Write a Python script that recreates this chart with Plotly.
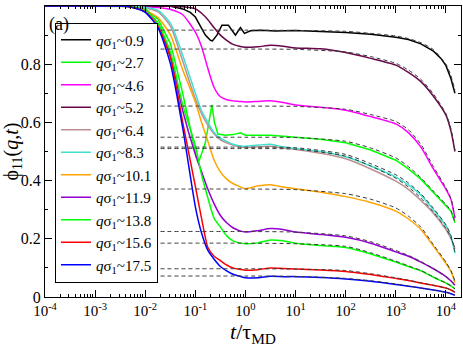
import plotly.graph_objects as go

# time grid shared by most curves (t / tau_MD)
T = [1e-4, 1e-3, 3.2e-3, 5.6e-3, 0.01, 0.018, 0.032, 0.056, 0.1, 0.133, 0.178, 0.237,
     0.316, 0.422, 0.562, 0.75, 1, 1.78, 3.16, 5.62, 10, 31.6, 100, 316, 1000, 1780,
     3160, 5620, 10000, 12600, 15100]

# q sigma_1 ~ 0.9 and 2.7 are noisy, they get their own time points
T_09 = [1e-4, 1e-3, 0.01, 0.032, 0.056, 0.079, 0.1, 0.126, 0.158, 0.2, 0.219, 0.269,
        0.339, 0.457, 0.631, 0.794, 0.955, 1.26, 2.0, 3.98, 10, 31.6, 100, 316, 1000,
        1780, 3160, 5620, 7940, 10000, 12600, 15100]
PHI_09 = [1, 1, 1, 0.999, 0.99, 0.978, 0.962, 0.93, 0.9, 0.882, 0.88, 0.9, 0.934,
          0.934, 0.9, 0.926, 0.906, 0.915, 0.917, 0.914, 0.916, 0.912, 0.909, 0.903,
          0.893, 0.885, 0.87, 0.845, 0.82, 0.795, 0.75, 0.70]

T_27 = [1e-4, 1e-3, 3.2e-3, 5.6e-3, 0.01, 0.018, 0.032, 0.056, 0.079, 0.105, 0.12,
        0.158, 0.214, 0.24, 0.282, 0.398, 0.562, 0.794, 1, 1.78, 3.16, 5.62, 10, 31.6,
        100, 316, 1000, 1780, 3160, 5620, 10000, 12600, 15100]
PHI_27 = [1, 1, 1, 0.998, 0.99, 0.955, 0.87, 0.7, 0.58, 0.48, 0.47, 0.53, 0.66, 0.6,
          0.56, 0.556, 0.558, 0.564, 0.556, 0.555, 0.556, 0.552, 0.548, 0.542, 0.53,
          0.505, 0.47, 0.44, 0.405, 0.36, 0.315, 0.295, 0.255]

PHI_46 = [1, 1, 1, 1, 0.998, 0.995, 0.988, 0.97, 0.91, 0.86, 0.785, 0.72, 0.688, 0.678,
          0.674, 0.672, 0.67, 0.672, 0.674, 0.668, 0.66, 0.652, 0.642, 0.62, 0.595,
          0.565, 0.515, 0.44, 0.37, 0.335, 0.27]
PHI_52 = [1, 1, 1, 1, 1, 1, 0.999, 0.997, 0.99, 0.975, 0.953, 0.925, 0.9, 0.882, 0.868,
          0.862, 0.858, 0.86, 0.865, 0.862, 0.856, 0.853, 0.84, 0.82, 0.797, 0.772,
          0.74, 0.69, 0.625, 0.57, 0.5]
PHI_64 = [1, 1, 1, 0.999, 0.993, 0.98, 0.93, 0.81, 0.68, 0.63, 0.59, 0.56, 0.54, 0.53,
          0.522, 0.516, 0.514, 0.516, 0.518, 0.512, 0.507, 0.494, 0.475, 0.44, 0.398,
          0.37, 0.332, 0.288, 0.232, 0.2, 0.165]
PHI_83 = [1, 1, 1, 0.999, 0.995, 0.985, 0.94, 0.83, 0.7, 0.64, 0.6, 0.565, 0.545, 0.535,
          0.525, 0.52, 0.518, 0.522, 0.525, 0.516, 0.51, 0.5, 0.482, 0.45, 0.412, 0.385,
          0.35, 0.3, 0.245, 0.208, 0.15]
PHI_101 = [1, 1, 0.999, 0.995, 0.985, 0.96, 0.9, 0.78, 0.67, 0.6, 0.535, 0.47, 0.43,
           0.405, 0.39, 0.38, 0.372, 0.382, 0.386, 0.378, 0.372, 0.36, 0.345, 0.325,
           0.295, 0.268, 0.232, 0.175, 0.115, 0.088, 0.05]
PHI_119 = [1, 1, 1, 0.997, 0.985, 0.94, 0.83, 0.64, 0.49, 0.43, 0.37, 0.32, 0.28, 0.255,
           0.238, 0.228, 0.223, 0.228, 0.235, 0.232, 0.223, 0.215, 0.205, 0.185, 0.155,
           0.14, 0.12, 0.097, 0.07, 0.055, 0.04]
PHI_138 = [1, 1, 1, 0.997, 0.985, 0.94, 0.84, 0.66, 0.52, 0.42, 0.34, 0.27, 0.24, 0.21,
           0.193, 0.186, 0.183, 0.186, 0.196, 0.193, 0.185, 0.177, 0.17, 0.148, 0.12,
           0.105, 0.09, 0.068, 0.048, 0.038, 0.028]
PHI_156 = [1, 1, 1, 0.995, 0.98, 0.93, 0.82, 0.6, 0.38, 0.27, 0.17, 0.14, 0.125, 0.11,
           0.1, 0.095, 0.092, 0.094, 0.1, 0.098, 0.096, 0.093, 0.088, 0.077, 0.064,
           0.057, 0.048, 0.04, 0.031, 0.024, 0.016]
PHI_175 = [1, 1, 1, 0.995, 0.978, 0.925, 0.8, 0.58, 0.31, 0.22, 0.16, 0.13, 0.105, 0.09,
           0.078, 0.072, 0.066, 0.066, 0.071, 0.07, 0.07, 0.067, 0.062, 0.054, 0.043,
           0.037, 0.031, 0.024, 0.016, 0.011, 0.006]

# stretched exponential fits (dashed)
T_FIT = [0.0145, 1, 10, 100, 316, 1000, 1780, 3160, 5620, 10000, 12600, 15100]
FITS = {
    '0.9': [0.917, 0.917, 0.916, 0.913, 0.906, 0.897, 0.888, 0.874, 0.85, 0.8, 0.76, 0.71],
    '2.7': [0.549, 0.549, 0.548, 0.535, 0.512, 0.478, 0.448, 0.41, 0.364, 0.318, 0.296, 0.258],
    '4.6': [0.656, 0.656, 0.655, 0.645, 0.627, 0.603, 0.575, 0.525, 0.448, 0.375, 0.338, 0.275],
    '5.2': [0.852, 0.852, 0.851, 0.842, 0.826, 0.803, 0.78, 0.748, 0.698, 0.63, 0.578, 0.505],
    '6.4': [0.51, 0.51, 0.508, 0.484, 0.45, 0.408, 0.378, 0.34, 0.292, 0.236, 0.203, 0.168],
    '8.3': [0.515, 0.515, 0.513, 0.49, 0.458, 0.42, 0.392, 0.355, 0.305, 0.248, 0.21, 0.155],
    '10.1': [0.371, 0.371, 0.369, 0.355, 0.336, 0.306, 0.278, 0.24, 0.18, 0.12, 0.09, 0.055],
    '11.9': [0.225, 0.225, 0.223, 0.21, 0.19, 0.16, 0.143, 0.122, 0.098, 0.07, 0.056, 0.042],
    '13.8': [0.185, 0.185, 0.183, 0.174, 0.152, 0.123, 0.107, 0.091, 0.069, 0.048, 0.038, 0.028],
    '15.6': [0.097, 0.097, 0.096, 0.091, 0.08, 0.066, 0.058, 0.049, 0.04, 0.031, 0.024, 0.017],
    '17.5': [0.072, 0.072, 0.071, 0.064, 0.056, 0.045, 0.038, 0.031, 0.024, 0.016, 0.011, 0.007],
}

Q_LABELS = ['0.9', '2.7', '4.6', '5.2', '6.4', '8.3', '10.1', '11.9', '13.8', '15.6', '17.5']

X_TICKS = [1e-4, 1e-3, 1e-2, 1e-1, 1, 10, 100, 1000, 10000]
X_TICK_TEXT = ['10<sup>-4</sup>', '10<sup>-3</sup>', '10<sup>-2</sup>', '10<sup>-1</sup>',
               '10<sup>0</sup>', '10<sup>1</sup>', '10<sup>2</sup>', '10<sup>3</sup>',
               '10<sup>4</sup>']
Y_TICKS = [0, 0.2, 0.4, 0.6, 0.8, 1]
Y_TICK_TEXT = ['0', '0.2', '0.4', '0.6', '0.8', '1']

curves = {
    '0.9': (T_09, PHI_09), '2.7': (T_27, PHI_27), '4.6': (T, PHI_46),
    '5.2': (T, PHI_52), '6.4': (T, PHI_64), '8.3': (T, PHI_83),
    '10.1': (T, PHI_101), '11.9': (T, PHI_119), '13.8': (T, PHI_138),
    '15.6': (T, PHI_156), '17.5': (T, PHI_175),
}
colors = {'0.9': '#000000', '2.7': '#00ff00', '4.6': '#ff00ff', '5.2': '#670748',
          '6.4': '#bc8f8f', '8.3': '#40e0d0', '10.1': '#ffa500', '11.9': '#9400d3',
          '13.8': '#00ff00', '15.6': '#ff0000', '17.5': '#0000ff'}

serif = 'Liberation Serif, Times New Roman, serif'

fig = go.Figure()

for q in Q_LABELS:
    tt, yy = curves[q]
    noisy = q in ('0.9', '2.7')
    fig.add_trace(go.Scatter(x=tt, y=yy, mode='lines',
                             name='<i>q</i>σ<sub>1</sub>~' + q,
                             line=dict(color=colors[q], width=1.5,
                                       shape='linear' if noisy else 'spline',
                                       smoothing=0.6)))

for q in Q_LABELS:
    fig.add_trace(go.Scatter(x=T_FIT, y=FITS[q], mode='lines', showlegend=False,
                             hoverinfo='skip',
                             line=dict(color='#3a3a3a', width=1, dash='4px,3px',
                                       shape='spline', smoothing=0.6)))

minor_x = [k * 10.0 ** e for e in range(-4, 5) for k in range(2, 10)]

fig.update_layout(
    width=463, height=347,
    margin=dict(l=45, r=2, t=6, b=50, autoexpand=False),
    paper_bgcolor='white', plot_bgcolor='white',
    font=dict(family=serif, color='black', size=16),
    showlegend=True,
    legend=dict(x=0.024, y=0.943, xanchor='left', yanchor='top',
                bgcolor='white', bordercolor='black', borderwidth=1,
                font=dict(family=serif, size=15), itemwidth=30,
                tracegroupgap=0),
    xaxis=dict(type='log', range=[-4, 4.3], automargin=False,
               tickmode='array', tickvals=X_TICKS, ticktext=X_TICK_TEXT,
               ticks='inside', ticklen=7, tickwidth=1, tickcolor='black',
               showline=True, linecolor='black', linewidth=1, mirror='allticks',
               showgrid=False, zeroline=False,
               minor=dict(tickmode='array', tickvals=minor_x, ticks='inside',
                          ticklen=3, tickcolor='black', showgrid=False),
               tickfont=dict(family=serif, size=15),
               title=dict(text='<i>t</i>/τ<sub>MD</sub>', standoff=0,
                          font=dict(family=serif, size=22))),
    yaxis=dict(range=[0, 1], automargin=False,
               tickmode='array', tickvals=Y_TICKS, ticktext=Y_TICK_TEXT,
               ticks='inside', ticklen=7, tickwidth=1, tickcolor='black',
               showline=True, linecolor='black', linewidth=1, mirror='allticks',
               showgrid=False, zeroline=False,
               minor=dict(dtick=0.1, ticks='inside', ticklen=3, tickcolor='black',
                          showgrid=False),
               tickfont=dict(family=serif, size=16),
               title=dict(text='ϕ<sub>11</sub>(<i>q</i>,<i>t</i>)', standoff=0,
                          font=dict(family=serif, size=20))),
    annotations=[dict(text='(a)', x=0.004, y=0.978, xref='paper', yref='paper',
                      xanchor='left', yanchor='top', showarrow=False,
                      font=dict(family=serif, size=18))],
)

# the page's default body margin would push the figure off its window
fig.write_html("out.html", config={'displayModeBar': False},
               post_script="document.body.style.margin='0px';")
